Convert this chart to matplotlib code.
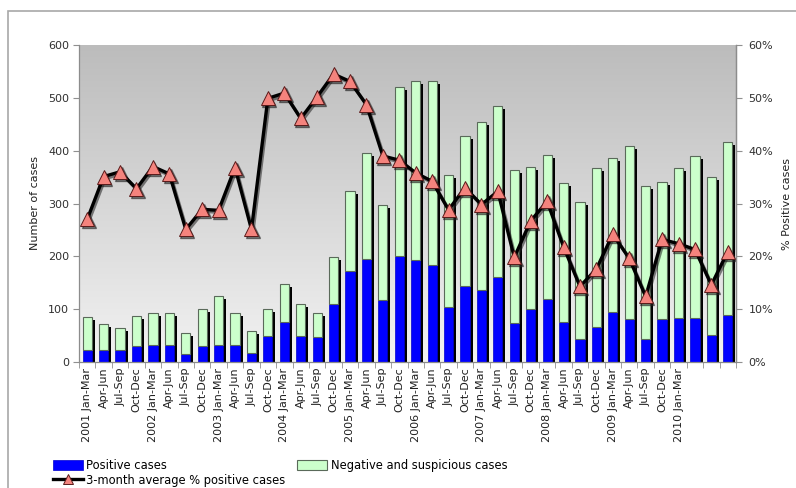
import numpy as np
import matplotlib
matplotlib.use("Agg")
import matplotlib.pyplot as plt
from matplotlib.colors import LinearSegmentedColormap
from matplotlib.transforms import ScaledTranslation
from matplotlib.patches import Rectangle, Patch
from matplotlib.lines import Line2D

plt.rcParams['font.family'] = ['DejaVu Sans']

# Quarterly surveillance data, 2001 Q1 - 2010 Q4
years = ['2001', '2002', '2003', '2004', '2005', '2006', '2007', '2008', '2009', '2010']
quarters = ['Jan-Mar', 'Apr-Jun', 'Jul-Sep', 'Oct-Dec']

positive = [23, 23, 23, 30, 33, 32, 16, 30, 33, 33,
            17, 50, 75, 50, 48, 109, 173, 195, 117, 200,
            193, 184, 104, 144, 137, 160, 73, 101, 120, 75,
            44, 66, 94, 82, 44, 82, 83, 83, 51, 89]

negative = [63, 48, 42, 57, 60, 60, 38, 70, 91, 59,
            41, 50, 72, 60, 45, 90, 150, 201, 181, 320,
            339, 348, 249, 284, 318, 324, 291, 268, 271, 264,
            259, 302, 293, 326, 290, 258, 285, 307, 299, 328]

pct_positive = [27.0, 35.1, 36.0, 32.8, 37.0, 35.6, 25.1, 28.9, 28.7, 36.8,
                25.1, 49.9, 50.9, 46.1, 50.2, 54.5, 53.1, 48.7, 39.0, 38.2,
                35.8, 34.2, 28.8, 33.0, 29.8, 32.3, 19.8, 26.7, 30.4, 21.8,
                14.3, 17.6, 24.2, 19.6, 12.4, 23.2, 22.4, 21.3, 14.6, 20.9]

# tick labels: year shown on the first quarter; last three quarters unlabeled
tick_labels = []
for y in years:
    for qi, q in enumerate(quarters):
        tick_labels.append((y + ' ' + q) if qi == 0 else q)
tick_labels = tick_labels[:37] + ['', '', '']

left_ticks = [0, 100, 200, 300, 400, 500, 600]
right_ticks = [0, 10, 20, 30, 40, 50, 60]

W, H = 796, 488
fig = plt.figure(figsize=(W / 100, H / 100), dpi=100)
ax = fig.add_axes([79 / W, 1 - 362 / H, (736 - 79) / W, (362 - 45) / H])

x = np.arange(len(positive))
pos = np.array(positive)
neg = np.array(negative)
total = pos + neg

# gradient plot background
cmap = LinearSegmentedColormap.from_list('bg', ['#f2f2f2', '#bcbcbc'])
ax.imshow(np.linspace(0, 1, 256).reshape(-1, 1), cmap=cmap, origin='lower',
          extent=(0, 1, 0, 1), transform=ax.transAxes, aspect='auto', zorder=0)

bw = 0.56
shadow_tr = ax.transData + ScaledTranslation(3 / 100, -3 / 100, fig.dpi_scale_trans)
ax.bar(x, total, width=bw, color='black', transform=shadow_tr, zorder=1, linewidth=0)
ax.bar(x, pos, width=bw, color='#0000ff', edgecolor='#0000cc', linewidth=0.5, zorder=2)
ax.bar(x, neg, bottom=pos, width=bw, color='#ccffcc', edgecolor='#5a6a5a',
       linewidth=0.8, zorder=2)

ax.set_xlim(-0.5, len(x) - 0.5)
ax.set_ylim(0, 600)
ax.set_yticks(left_ticks)
ax.set_yticklabels([str(v) for v in left_ticks])
ax.set_xticks(x)
ax.set_xticklabels(tick_labels, rotation=90, fontsize=8, color='#202020')
ax.set_xticks(np.arange(len(x) + 1) - 0.5, minor=True)
ax.tick_params(axis='x', which='major', length=0, pad=4)
ax.tick_params(axis='x', which='minor', length=4, color='#909090', direction='out')
ax.tick_params(axis='y', length=4, color='#909090', labelsize=8, labelcolor='#303030', pad=3)
ax.set_ylabel('Number of cases', fontsize=8, color='#202020', labelpad=6)

ax.spines['top'].set_visible(False)
for s in ['left', 'bottom', 'right']:
    ax.spines[s].set_color('#8c8c8c')
    ax.spines[s].set_linewidth(0.9)

# percent-positive line on the secondary axis
ax2 = ax.twinx()
ax2.set_ylim(0, 60)
ax2.set_yticks(right_ticks)
ax2.set_yticklabels([f'{v}%' for v in right_ticks])
ax2.tick_params(axis='y', length=4, color='#909090', labelsize=8, labelcolor='#303030', pad=5)
ax2.set_ylabel('% Positive cases', fontsize=8, color='#202020', labelpad=6)
for s in ['top', 'left', 'bottom']:
    ax2.spines[s].set_visible(False)
ax2.spines['right'].set_color('#8c8c8c')
ax2.spines['right'].set_linewidth(0.9)

line_shadow = ax2.transData + ScaledTranslation(1.5 / 100, -2 / 100, fig.dpi_scale_trans)
ax2.plot(x, pct_positive, color='#202020', lw=2.4, alpha=0.55, transform=line_shadow,
         marker='^', markersize=9.5, markerfacecolor='#202020', markeredgecolor='#202020')
ax2.plot(x, pct_positive, color='black', lw=2.4,
         marker='^', markersize=9.5, markerfacecolor='#f4837d',
         markeredgecolor='#5a1a1a', markeredgewidth=0.7)

# legend below the plot
handles = [Patch(facecolor='#0000ff', edgecolor='#0000cc', linewidth=0.5),
           Line2D([0], [0], color='black', lw=2.4, marker='^', markersize=7,
                  markerfacecolor='#f4837d', markeredgecolor='#5a1a1a', markeredgewidth=0.7),
           Patch(facecolor='#ccffcc', edgecolor='#5a6a5a', linewidth=0.8)]
labels = ['Positive cases', '3-month average % positive cases', 'Negative and suspicious cases']
fig.legend(handles, labels, ncol=2, loc='upper left', bbox_to_anchor=(53 / W, 1 - 459 / H),
           frameon=False, fontsize=8.3, handlelength=2.6, handleheight=0.9,
           handletextpad=0.3, labelspacing=0.15, columnspacing=1.0, borderpad=0,
           borderaxespad=0)

# outer chart frame
fig.patches.append(Rectangle((8 / W, -0.1), 1.2, 1.1 - 11 / H, transform=fig.transFigure,
                             fill=False, edgecolor='#a8a8a8', linewidth=1.2))

fig.savefig('out.png', dpi=100)
